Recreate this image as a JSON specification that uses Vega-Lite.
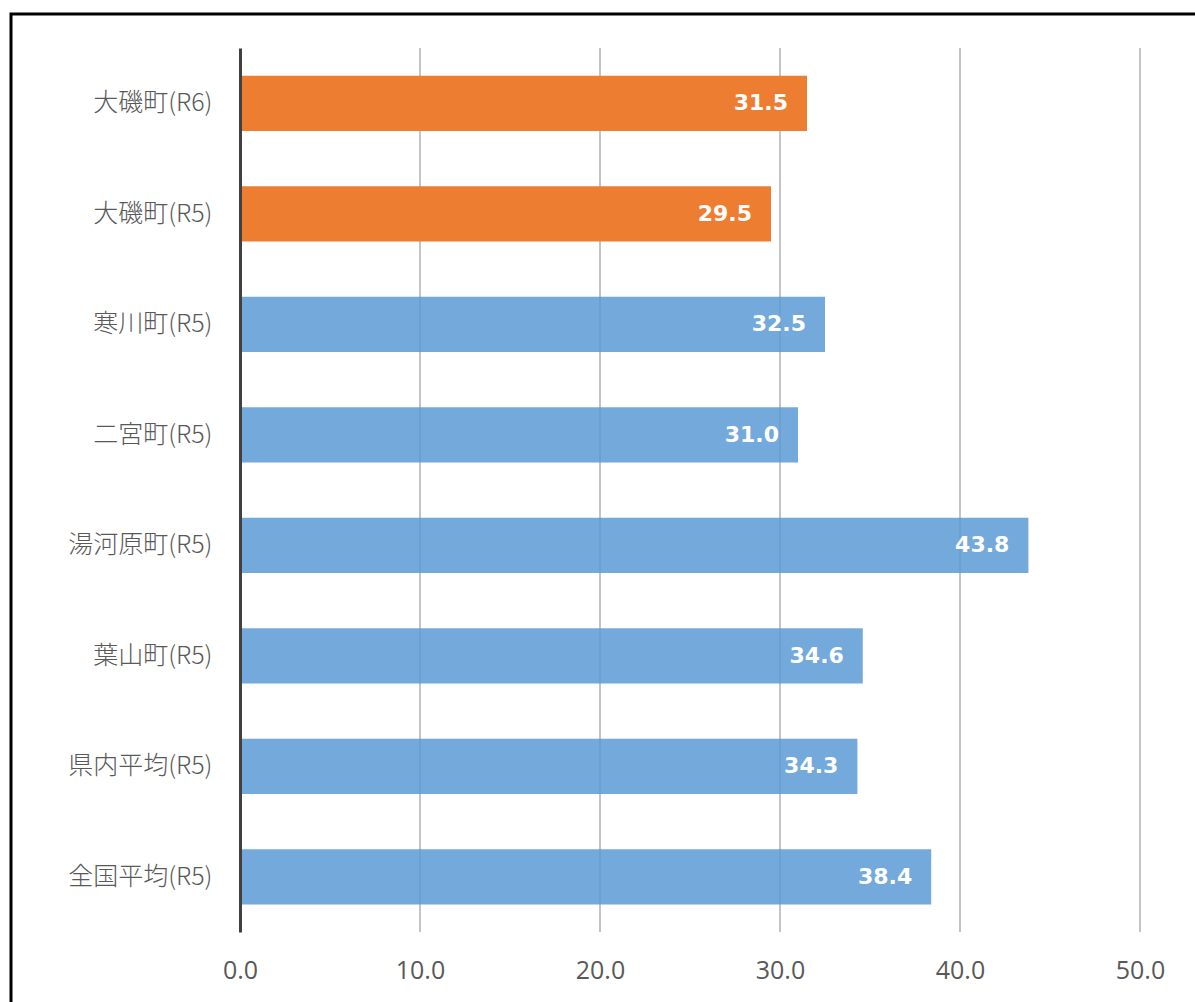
{
  "$schema": "https://vega.github.io/schema/vega-lite/v6.json",
  "autosize": {"type": "none"},
  "padding": {"left": 11, "top": 14, "right": -10, "bottom": -10},
  "width": 1194,
  "height": 998,
  "background": "white",
  "config": {"view": {"stroke": "#000000", "strokeWidth": 3}},
  "datasets": {
    "bars": [
      {"area": "大磯町(R6)", "value": 31.5, "group": "大磯町"},
      {"area": "大磯町(R5)", "value": 29.5, "group": "大磯町"},
      {"area": "寒川町(R5)", "value": 32.5, "group": "比較"},
      {"area": "二宮町(R5)", "value": 31.0, "group": "比較"},
      {"area": "湯河原町(R5)", "value": 43.8, "group": "比較"},
      {"area": "葉山町(R5)", "value": 34.6, "group": "比較"},
      {"area": "県内平均(R5)", "value": 34.3, "group": "比較"},
      {"area": "全国平均(R5)", "value": 38.4, "group": "比較"}
    ],
    "grid": [
      {"v": 10, "top": "大磯町(R6)", "bot": "全国平均(R5)"},
      {"v": 20, "top": "大磯町(R6)", "bot": "全国平均(R5)"},
      {"v": 30, "top": "大磯町(R6)", "bot": "全国平均(R5)"},
      {"v": 40, "top": "大磯町(R6)", "bot": "全国平均(R5)"},
      {"v": 50, "top": "大磯町(R6)", "bot": "全国平均(R5)"}
    ]
  },
  "layer": [
    {
      "data": {"name": "grid"},
      "mark": {"type": "rule", "color": "#c4c4c4", "strokeWidth": 2},
      "encoding": {
        "x": {"field": "v", "type": "quantitative", "title": null, "scale": {"domain": [-12.7222, 53.6111], "nice": false, "zero": false}},
        "y": {"field": "top", "type": "nominal", "bandPosition": -0.5, "title": null,
              "scale": {"domain": ["大磯町(R6)", "大磯町(R5)", "寒川町(R5)", "二宮町(R5)", "湯河原町(R5)", "葉山町(R5)", "県内平均(R5)", "全国平均(R5)"], "range": [34, 918], "paddingInner": 0.5, "paddingOuter": 0.25}},
        "y2": {"field": "bot", "bandPosition": 1.5}
      }
    },
    {
      "data": {"name": "bars"},
      "mark": {"type": "bar"},
      "encoding": {
        "x": {"field": "value", "type": "quantitative", "title": null, "scale": {"domain": [-12.7222, 53.6111], "nice": false, "zero": false},
              "axis": {"orient": "bottom", "offset": -80, "values": [0, 10, 20, 30, 40, 50], "format": ".1f", "domain": false, "ticks": false, "grid": false, "title": null,
                       "labelFont": "Open Sans", "labelFontSize": 25, "labelColor": "#595959", "labelPadding": 26}},
        "x2": {"datum": 0},
        "y": {"field": "area", "type": "nominal", "title": null,
              "scale": {"domain": ["大磯町(R6)", "大磯町(R5)", "寒川町(R5)", "二宮町(R5)", "湯河原町(R5)", "葉山町(R5)", "県内平均(R5)", "全国平均(R5)"], "range": [34, 918], "paddingInner": 0.5, "paddingOuter": 0.25},
              "axis": {"orient": "left", "offset": -229, "domainColor": "#404040", "domainWidth": 3, "ticks": false, "grid": false, "title": null, "zindex": 1,
                       "labelFont": "Noto Sans CJK JP", "labelFontWeight": 300, "labelFontSize": 25, "labelColor": "#595959", "labelPadding": 28}},
        "color": {"field": "group", "type": "nominal", "scale": {"domain": ["大磯町", "比較"], "range": ["#ED7D31", "#5B9BD5"]}, "legend": null},
        "opacity": {"field": "group", "type": "nominal", "scale": {"domain": ["大磯町", "比較"], "range": [1, 0.85]}, "legend": null}
      }
    },
    {
      "data": {"name": "bars"},
      "mark": {"type": "text", "align": "right", "baseline": "middle", "dx": -19, "color": "white", "font": "DejaVu Sans", "fontWeight": "bold", "fontSize": 22},
      "encoding": {
        "x": {"field": "value", "type": "quantitative", "title": null, "scale": {"domain": [-12.7222, 53.6111], "nice": false, "zero": false}},
        "y": {"field": "area", "type": "nominal", "title": null,
              "scale": {"domain": ["大磯町(R6)", "大磯町(R5)", "寒川町(R5)", "二宮町(R5)", "湯河原町(R5)", "葉山町(R5)", "県内平均(R5)", "全国平均(R5)"], "range": [34, 918], "paddingInner": 0.5, "paddingOuter": 0.25}},
        "text": {"field": "value", "type": "quantitative", "format": ".1f"}
      }
    }
  ]
}
